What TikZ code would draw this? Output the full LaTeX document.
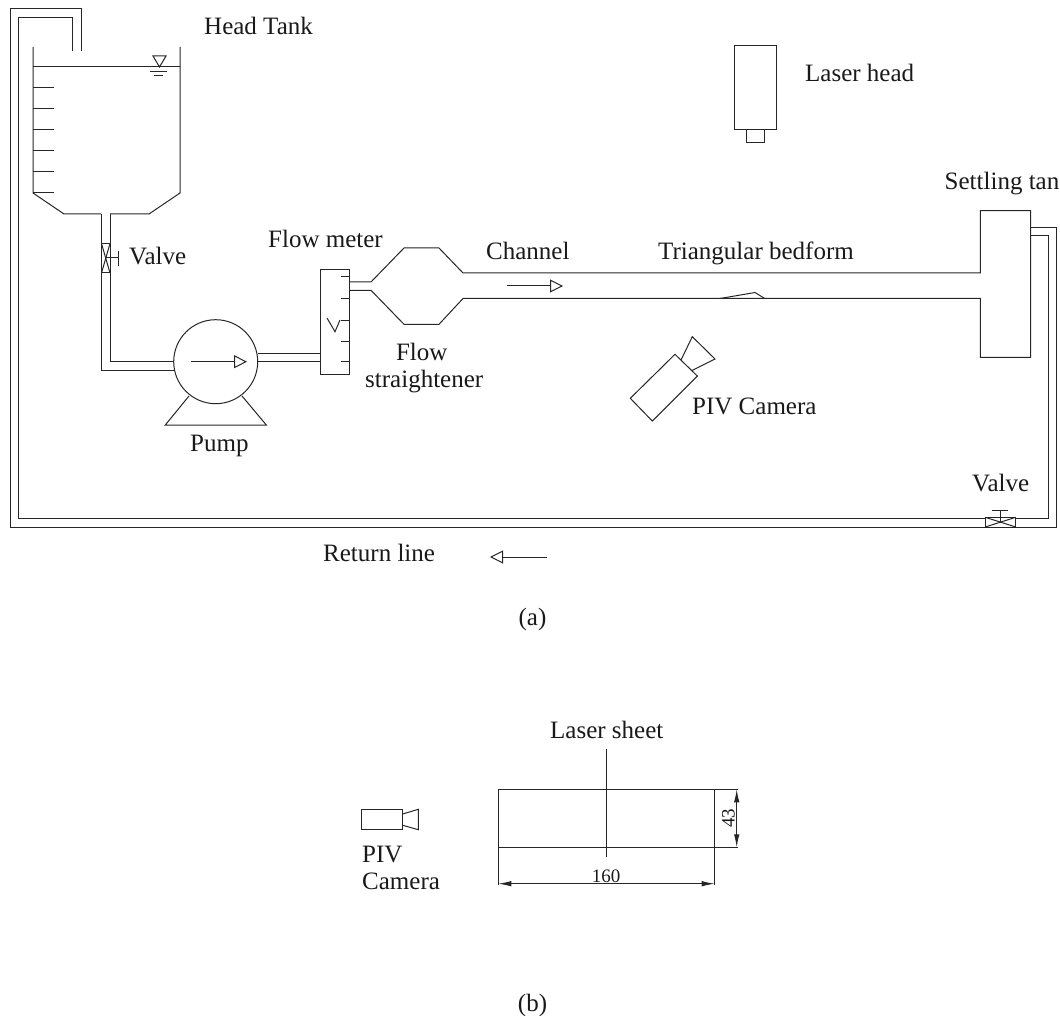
\documentclass[tikz,border=0pt]{standalone}
\usepackage{fontspec}
\setmainfont{Liberation Serif}
\usetikzlibrary{arrows.meta}
\begin{document}
\begin{tikzpicture}[
  x=1pt,y=-1pt,
  pipe/.style={line width=1pt,draw=black!85},
  lbl/.style={font=\fontsize{25}{25}\selectfont,text=black!90,anchor=base west,inner sep=0pt},
  mid/.style={font=\fontsize{25}{25}\selectfont,text=black!90,anchor=base,inner sep=0pt},
  dimtxt/.style={font=\fontsize{19}{19}\selectfont,text=black!90,inner sep=0pt},
  flow/.style={pipe,-{Triangle[open,length=13pt,width=13pt]}},
  dimen/.style={pipe,{Latex[length=13pt,width=5.5pt]}-{Latex[length=13pt,width=5.5pt]}}
]
\useasboundingbox (0,0) rectangle (1060,1016);
% return line
\draw[pipe] (81,51) -- (81,9) -- (10,9) -- (10,527) -- (1056.7,527) -- (1056.7,227.7) -- (1030.7,227.7);
\draw[pipe] (72,51) -- (72,18) -- (18,18) -- (18,518.7) -- (1048.3,518.7) -- (1048.3,235.7) -- (1030.7,235.7);
% head tank
\draw[pipe] (33,47) -- (33,193) -- (64,214) -- (101,214);
\draw[pipe] (180,47) -- (180,193) -- (149,214) -- (110,214);
\draw[pipe] (33,67) -- (180,67);
\foreach \y in {88,109,130,151,172,193} {
  \draw[pipe] (33,\y) -- (54,\y);
}
\draw[pipe] (153,56) -- (166,56) -- (159.5,67) -- cycle;
\draw[pipe] (150,71.5) -- (167,71.5);
\draw[pipe] (154,76) -- (163,76);
% pipe to pump
\draw[pipe] (101.5,214) -- (101.5,370) -- (173.7,370);
\draw[pipe] (110,214) -- (110,361.7) -- (173.7,361.7);
\draw[pipe,fill=white] (101.5,243.5) rectangle (110,273);
\draw[pipe] (101.5,243.5) -- (110,273);
\draw[pipe] (110,243.5) -- (101.5,273);
\draw[pipe] (106,258) -- (118,258);
\draw[pipe] (118,251) -- (118,266);
% pump
\draw[pipe] (215.7,361.7) circle (42);
\draw[pipe] (189,396) -- (165.3,425) -- (266.3,425) -- (242,396);
\draw[flow] (191,361.7) -- (247,361.7);
% flow meter
\draw[pipe] (258,353.5) -- (320.5,353.5);
\draw[pipe] (258,361.7) -- (320.5,361.7);
\draw[pipe] (320.5,269.5) rectangle (349.7,374);
\foreach \y in {277,299,320,341,361.7} {
  \draw[pipe] (341,\y) -- (349.7,\y);
}
\draw[pipe] (327,318) -- (335,331.7) -- (340,320);
% straightener and channel
\draw[pipe] (349.7,282) -- (371,282) -- (404,248) -- (439,248) -- (463,273) -- (980.3,273) -- (980.3,210.7) -- (1030.7,210.7) -- (1030.7,357.3) -- (980.3,357.3) -- (980.3,298.5) -- (463,298.5) -- (439,324.3) -- (404,324.3) -- (371,290.3) -- (349.7,290.3);
\draw[flow] (506.5,286) -- (563,286);
\draw[pipe] (720,298.5) -- (755,292.5) -- (764.7,298.5);
% camera
\draw[pipe] (630.3,398.3) -- (675,354.3) -- (697.3,376) -- (652.3,421) -- cycle;
\draw[pipe] (681,360) -- (692.3,336.7) -- (715,359) -- (691.7,370.7);
% laser head
\draw[pipe] (734.7,45.7) rectangle (776.3,129.3);
\draw[pipe] (746.7,129.3) rectangle (764,142.7);
% lower valve
\draw[pipe,fill=white] (985.3,517.3) rectangle (1015.7,527);
\draw[pipe] (985.3,517.3) -- (1015.7,527);
\draw[pipe] (985.3,527) -- (1015.7,517.3);
\draw[pipe] (1000.5,522) -- (1000.5,510);
\draw[pipe] (991.7,510) -- (1008.3,510);
\draw[flow] (547,557) -- (490,557);
% part b
\draw[pipe] (498.3,789.3) rectangle (714.7,847.3);
\draw[pipe] (606.3,749.3) -- (606.3,856.7);
\draw[pipe] (714.7,789.3) -- (738.3,789.3);
\draw[pipe] (714.7,847.3) -- (738.3,847.3);
\draw[pipe] (498.3,847.3) -- (498.3,885);
\draw[pipe] (714.7,847.3) -- (714.7,885);
\draw[dimen] (736.7,789.3) -- (736.7,847.3);
\draw[dimen] (498.3,883.7) -- (714.7,883.7);
\draw[pipe] (361.7,809.3) rectangle (402.7,829.7);
\draw[pipe] (402.7,814) -- (418.3,809.3) -- (418.3,829.7) -- (402.7,825.3);
% labels
\foreach \name/\px/\py/\txt in {
  headtank/204/35/Head Tank,
  valveup/129/264.5/Valve,
  flowmeter/268/248/Flow meter,
  channel/486/260/Channel,
  bedform/658/260/Triangular bedform,
  laserhead/805/82/Laser head,
  settling/944.5/189.3/Settling tan,
  straightener/365/387.7/straightener,
  pump/190/451.7/Pump,
  pivcam/692/414/PIV Camera,
  valvedown/972/491/Valve,
  returnline/323/561.7/Return line,
  lasersheet/550/738/Laser sheet,
  pivb/362/862.7/PIV,
  camerab/362/889/Camera
} {
  \node[lbl] (\name) at (\px,\py) {\txt};
}
\node[mid] (flowtxt) at (421.7,360) {Flow};
\node[mid] (capa) at (532.5,625) {(a)};
\node[mid] (capb) at (532.5,1011.7) {(b)};
\node[dimtxt,anchor=base] (dimw) at (606,882) {160};
\node[dimtxt,rotate=90,anchor=center] (dimh) at (728.5,818.3) {43};
\end{tikzpicture}
\end{document}
